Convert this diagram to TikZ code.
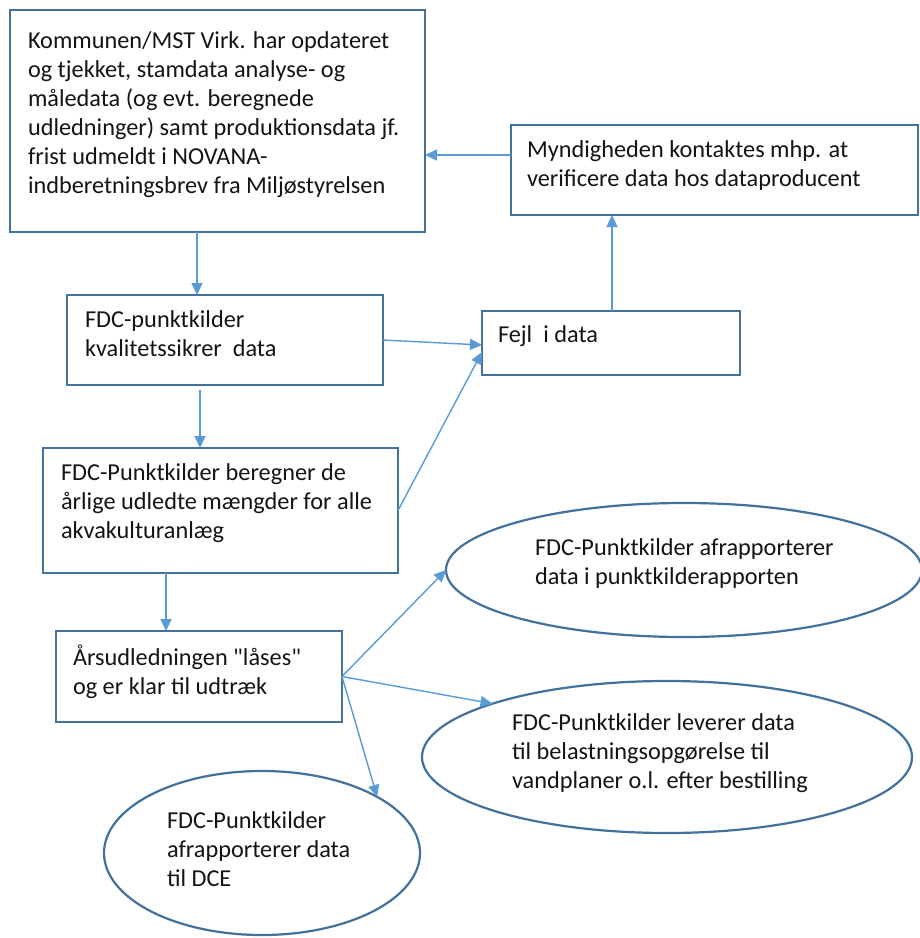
\documentclass[tikz,border=0pt]{standalone}
\usepackage{fontspec}
\setmainfont{Carlito}[Ligatures=TeXOff]
\usetikzlibrary{shapes.geometric,arrows.meta}
\definecolor{boxblue}{HTML}{41719C}
\definecolor{arrblue}{HTML}{5B9BD5}
\definecolor{txt}{HTML}{141414}
\begin{document}
\begin{tikzpicture}[x=1pt,y=-1pt,
  box/.style={draw=boxblue,line width=2.2pt,rectangle,inner sep=0pt,outer sep=0pt},
  oval/.style={draw=boxblue,line width=2.2pt,ellipse,inner sep=0pt,outer sep=0pt},
  txtnode/.style={anchor=north west,inner sep=0pt,outer sep=0pt,align=left,text=txt,
    font=\fontsize{24.3}{29}\selectfont},
  arr/.style={draw=arrblue,line width=1.4pt,-{Triangle[length=12pt,width=11pt]}}]
\path[use as bounding box] (0,0) rectangle (920,938);
\fill[white] (0,0) rectangle (920,938);

% boxes
\node[box,minimum width=415pt,minimum height=222pt] (b1) at (217.5,121) {};
\node[box,minimum width=407pt,minimum height=90pt] (b5) at (714.5,170) {};
\node[box,minimum width=316pt,minimum height=90pt] (b2) at (225,340) {};
\node[box,minimum width=258pt,minimum height=64pt] (b6) at (611,343) {};
\node[box,minimum width=355pt,minimum height=125pt] (b3) at (220.5,510.5) {};
\node[box,minimum width=286pt,minimum height=91pt] (b4) at (199,676.5) {};
\node[oval,minimum width=476pt,minimum height=134pt] (e1) at (684,570) {};
\node[oval,minimum width=490pt,minimum height=152pt] (e2) at (667,757) {};
\node[oval,minimum width=316pt,minimum height=164pt] (e3) at (262,853) {};

% texts
\node[txtnode] (t1) at (28,27.7) {\strut Kommunen/MST Virk. har opdateret\\og tjekket, stamdata analyse- og\\måledata (og evt. beregnede\\udledninger) samt produktionsdata jf.\\frist udmeldt i NOVANA-\\indberetningsbrev fra Miljøstyrelsen};
\node[txtnode] (t5) at (527,136.7) {\strut Myndigheden kontaktes mhp. at\\verificere data hos dataproducent};
\node[txtnode] (t2) at (85,306.7) {\strut FDC-punktkilder\\kvalitetssikrer\ \ data};
\node[txtnode] (t6) at (498,321.7) {\strut Fejl\ \ i data};
\node[txtnode] (t3) at (61,459.7) {\strut FDC-Punktkilder beregner de\\årlige udledte mængder for alle\\akvakulturanlæg};
\node[txtnode] (t4) at (73,644.7) {\strut Årsudledningen "låses"\\og er klar til udtræk};
\node[txtnode] (te1) at (535,534.7) {\strut FDC-Punktkilder afrapporterer\\data i punktkilderapporten};
\node[txtnode] (te2) at (512,709.7) {\strut FDC-Punktkilder leverer data\\til belastningsopgørelse til\\vandplaner o.l. efter bestilling};
\node[txtnode] (te3) at (167,807.7) {\strut FDC-Punktkilder\\afrapporterer data\\til DCE};

% connectors
\draw[arr] ([xshift=-20.5pt]b1.south) -- ([xshift=-28pt]b2.north);
\draw[arr] ([xshift=-25pt,yshift=-5pt]b2.south) -- ([xshift=-20.5pt]b3.north);
\draw[arr] ([xshift=-54.5pt]b3.south) -- ([xshift=-33pt]b4.north);
\draw[arr] ([yshift=15pt]b5.west) -- ([yshift=-34pt]b1.east);
\draw[arr] ([xshift=1pt]b6.north) -- ([xshift=-102.5pt]b5.south);
\draw[arr] (b2.east) -- ([yshift=-2pt]b6.west);
\draw[arr] (b3.east) -- ([yshift=-9pt]b6.west);
\draw[arr] (b4.east) -- (e1.west);
\draw[arr] (b4.east) -- (e2.163);
\draw[arr] (b4.east) -- (e3.26);
\end{tikzpicture}
\end{document}
